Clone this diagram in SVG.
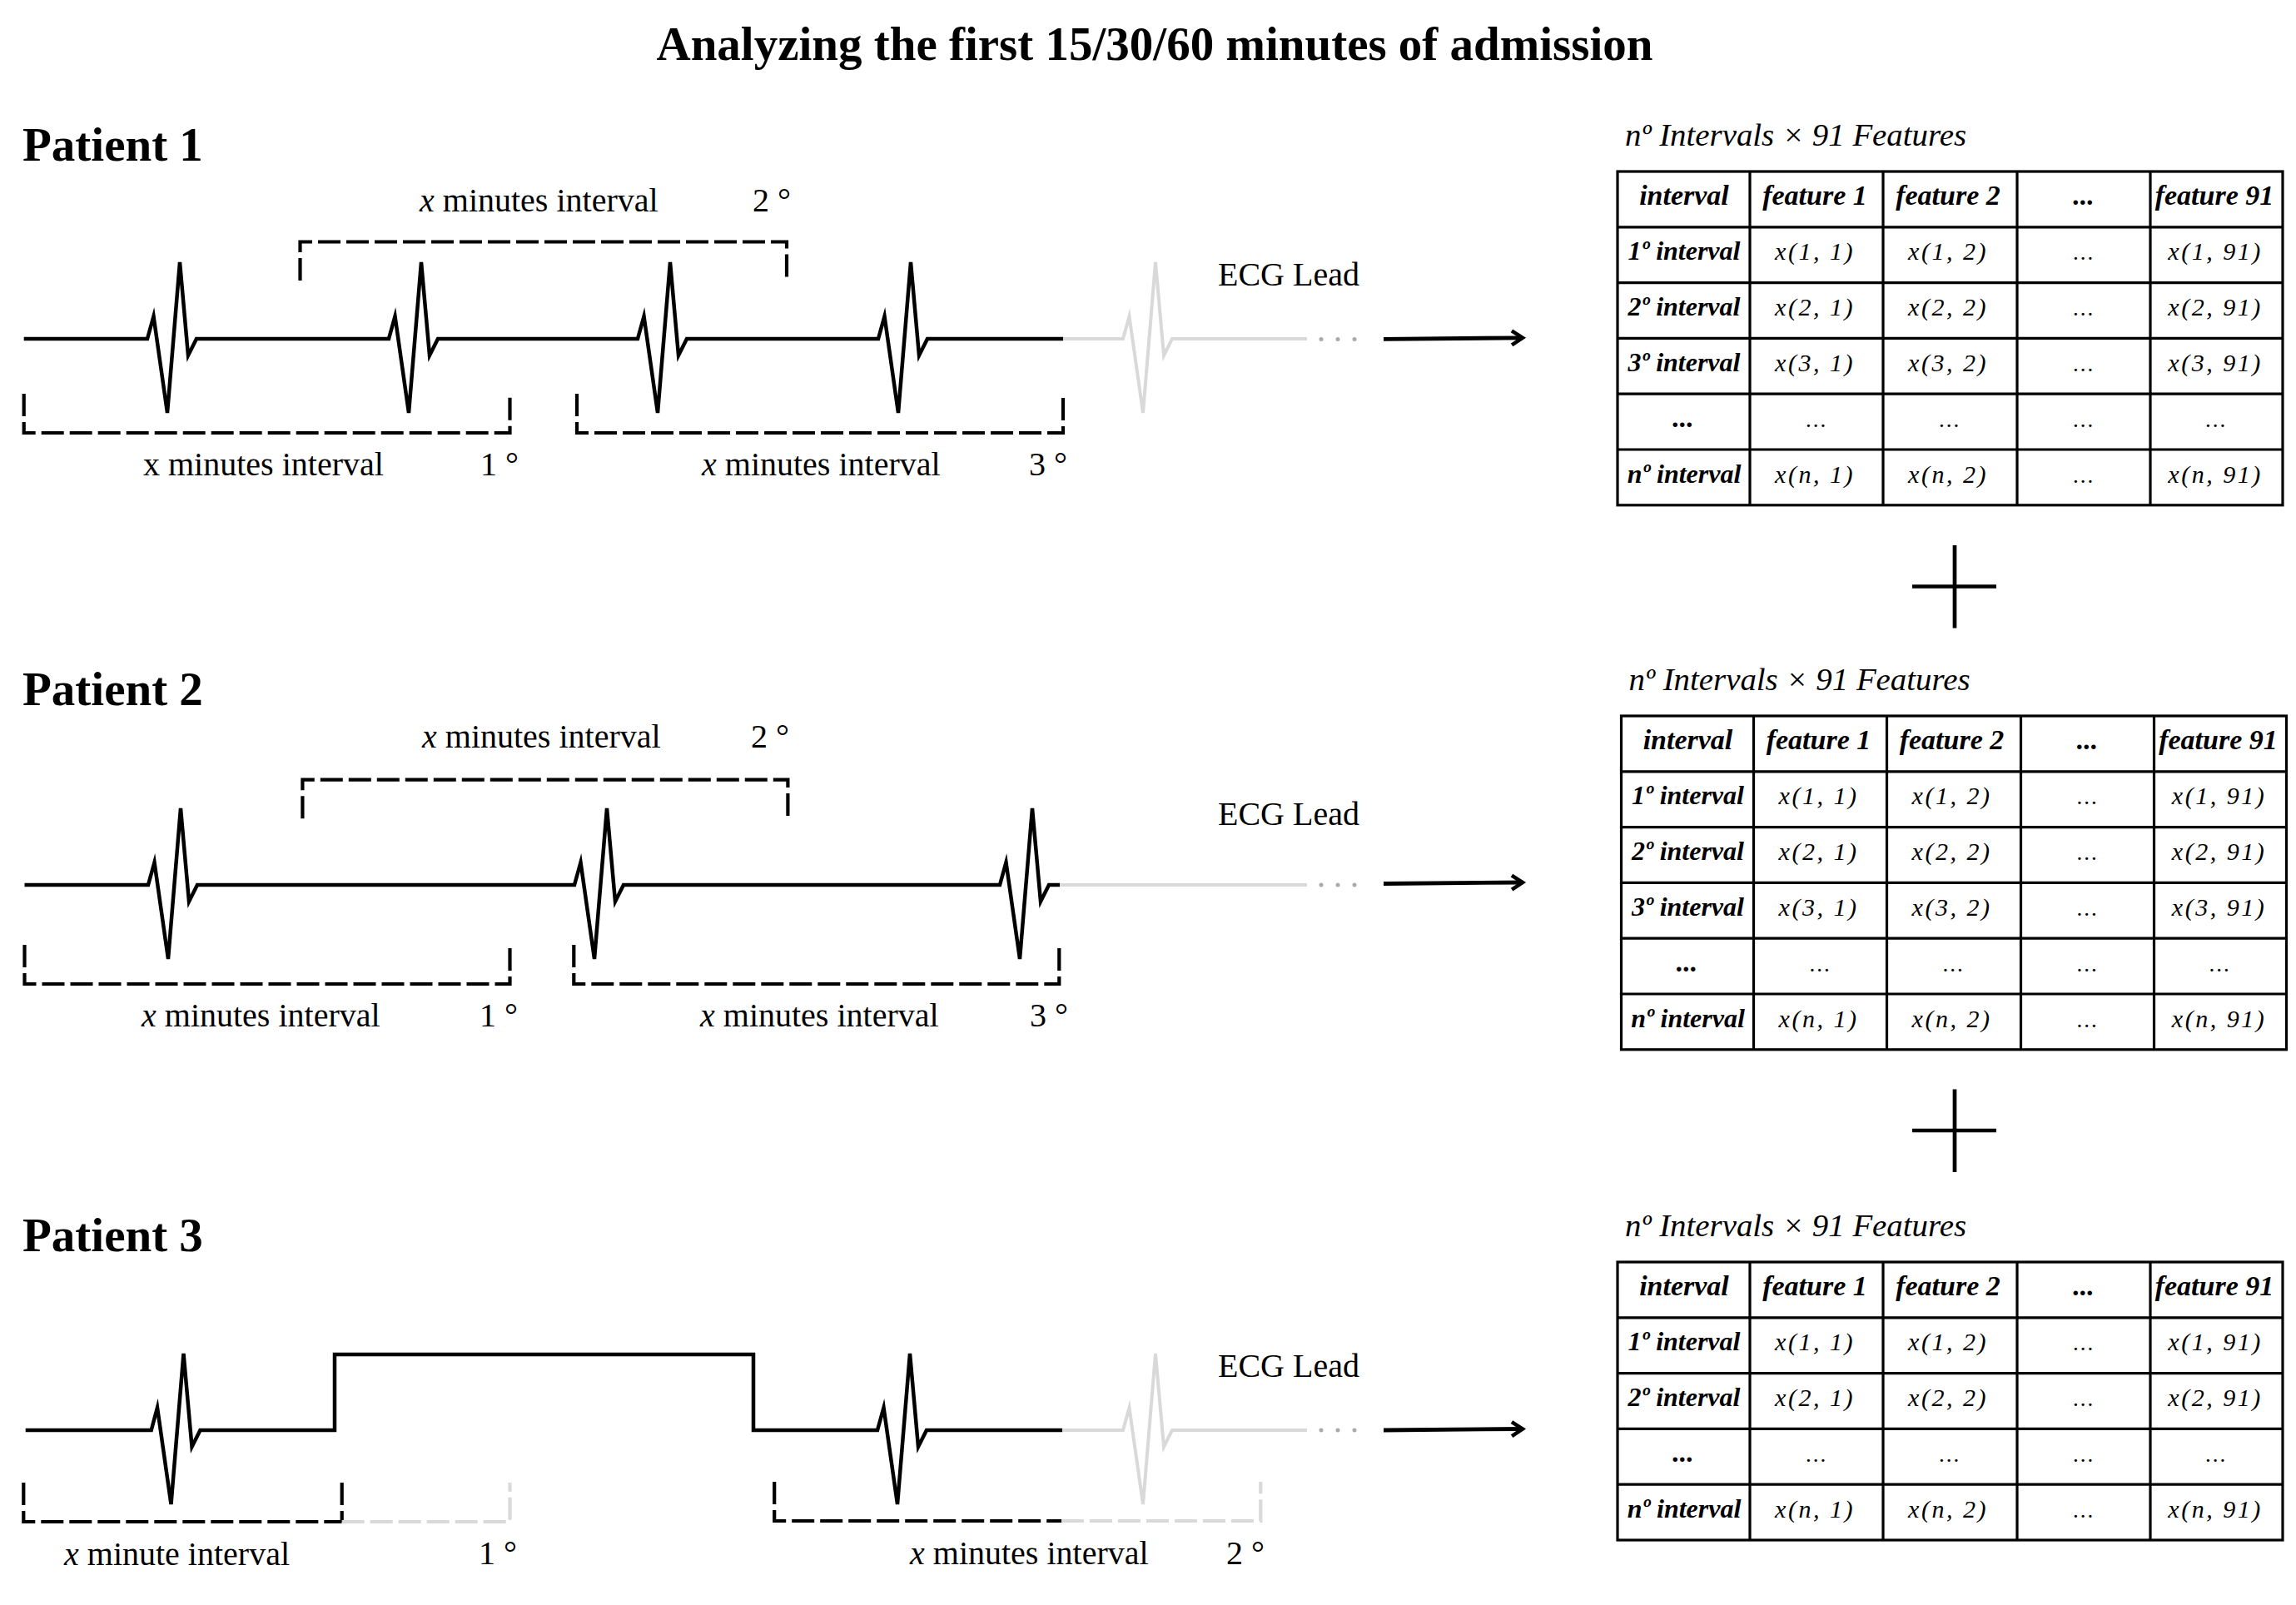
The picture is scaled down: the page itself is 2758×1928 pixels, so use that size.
<svg xmlns="http://www.w3.org/2000/svg" width="2758" height="1928" viewBox="0 0 2758 1928">
<style>
text{font-family:"Liberation Serif","Times New Roman",serif;fill:#000}
.title{font-size:57px;font-weight:bold}
.pat{font-size:57px;font-weight:bold}
.lbl{font-size:40px}
.it{font-style:italic}
.ttl{font-size:38px;font-style:italic}
.hd{font-size:34px;font-weight:bold;font-style:italic;text-anchor:middle}
.rl{font-size:32px;font-weight:bold;font-style:italic;text-anchor:middle}
.cell{font-size:30px;font-style:italic;text-anchor:middle;letter-spacing:2.5px}
.dt{font-size:27px;text-anchor:middle;letter-spacing:2px}
.ecg{fill:none;stroke:#000;stroke-width:4.5;stroke-linejoin:miter;stroke-miterlimit:8}
.ecgg{fill:none;stroke:#d9d9d9;stroke-width:4;stroke-linejoin:miter;stroke-miterlimit:8}
.br{fill:none;stroke:#000;stroke-width:4.2;stroke-dasharray:27 7}
.brg{fill:none;stroke:#d9d9d9;stroke-width:4.2;stroke-dasharray:27 7}
.grid{fill:none;stroke:#000;stroke-width:3.2}
.arr{fill:none;stroke:#000;stroke-width:4.8}
.plus{fill:none;stroke:#000;stroke-width:4.7}
.dot{fill:#aaaaaa}
</style>
<defs>
<marker id="chev" markerUnits="userSpaceOnUse" markerWidth="30" markerHeight="30" refX="15" refY="10" orient="auto" viewBox="0 0 30 20">
<path d="M2,1.5 L15,10 L2,18.5" fill="none" stroke="#000" stroke-width="4.5"/>
</marker>
</defs>

<text class="title" x="1387" y="72" text-anchor="middle">Analyzing the first 15/30/60 minutes of admission</text>

<!-- Patient 1 -->
<g id="patient1">
<text class="pat" x="27" y="193">Patient 1</text>
<path class="ecg" d="M28.7,407 H177 L184.5,380 L201,496 L216,315 L226,427 L236,407 H467 L474.5,380 L491,496 L506,315 L516,427 L526,407 H766 L773.5,380 L790,496 L805,315 L815,427 L825,407 H1055 L1062.5,380 L1079,496 L1094,315 L1104,427 L1114,407 H1277"/>
<path class="ecgg" d="M1277,407 H1349 L1356.5,380 L1373,496 L1388,315 L1398,427 L1408,407 H1570"/>
<circle class="dot" cx="1587" cy="407.5" r="2.5"/><circle class="dot" cx="1607" cy="407.5" r="2.5"/><circle class="dot" cx="1627" cy="407.5" r="2.5"/>
<path class="br" d="M28.7,473 V520 H612.5 V473"/>
<path class="br" d="M360.5,337 V290.5 H945 V337"/>
<path class="br" d="M693,473 V520 H1277 V473"/>
<text class="lbl" x="504" y="254"><tspan class="it">x</tspan> minutes interval</text>
<text class="lbl" x="904" y="254">2 °</text>
<text class="lbl" x="172" y="571">x minutes interval</text>
<text class="lbl" x="577" y="571">1 °</text>
<text class="lbl" x="843" y="571"><tspan class="it">x</tspan> minutes interval</text>
<text class="lbl" x="1236" y="571">3 °</text>
<text class="lbl" x="1463" y="343">ECG Lead</text>
</g>

<!-- Patient 2 -->
<g id="patient2">
<text class="pat" x="27" y="847">Patient 2</text>
<path class="ecg" d="M29.5,1063 H178 L185.5,1036 L202,1152 L217,971 L227,1083 L237,1063 H690 L697.5,1036 L714,1152 L729,971 L739,1083 L749,1063 H1201 L1208.5,1036 L1225,1152 L1240,971 L1250,1083 L1260,1063 H1273"/>
<path class="ecgg" d="M1273,1063 H1570"/>
<circle class="dot" cx="1587" cy="1063" r="2.5"/><circle class="dot" cx="1607" cy="1063" r="2.5"/><circle class="dot" cx="1627" cy="1063" r="2.5"/>
<path class="br" d="M29.5,1135 V1182 H612.5 V1135"/>
<path class="br" d="M363.4,983.3 V936.7 H946.4 V983.3"/>
<path class="br" d="M689.3,1135 V1182 H1272.3 V1135"/>
<text class="lbl" x="507" y="898"><tspan class="it">x</tspan> minutes interval</text>
<text class="lbl" x="902" y="898">2 °</text>
<text class="lbl" x="170" y="1233"><tspan class="it">x</tspan> minutes interval</text>
<text class="lbl" x="576" y="1233">1 °</text>
<text class="lbl" x="841" y="1233"><tspan class="it">x</tspan> minutes interval</text>
<text class="lbl" x="1237" y="1233">3 °</text>
<text class="lbl" x="1463" y="991">ECG Lead</text>
</g>

<!-- Patient 3 -->
<g id="patient3">
<text class="pat" x="27" y="1503">Patient 3</text>
<path class="ecg" d="M30.7,1718 H181.7 L189,1691 L205.5,1807 L220.5,1626 L230.5,1738 L240.5,1718 H402 V1627 H905 V1718 H1054 L1061.5,1691 L1078,1807 L1093,1626 L1103,1738 L1113,1718 H1276"/>
<path class="ecgg" d="M1276,1718 H1349 L1356.5,1691 L1373,1807 L1388,1626 L1398,1738 L1408,1718 H1570"/>
<circle class="dot" cx="1587" cy="1718" r="2.5"/><circle class="dot" cx="1607" cy="1718" r="2.5"/><circle class="dot" cx="1627" cy="1718" r="2.5"/>
<path class="br" d="M28.3,1781 V1828 H410.7"/>
<path class="br" d="M410.7,1781 V1828"/>
<path class="brg" d="M410.7,1828 H612.5 V1781"/>
<path class="br" d="M930.2,1780 V1827 H1275"/>
<path class="brg" d="M1275,1827 H1514.3 V1780"/>
<text class="lbl" x="77" y="1880"><tspan class="it">x</tspan> minute interval</text>
<text class="lbl" x="575" y="1879">1 °</text>
<text class="lbl" x="1093" y="1879"><tspan class="it">x</tspan> minutes interval</text>
<text class="lbl" x="1473" y="1879">2 °</text>
<text class="lbl" x="1463" y="1654">ECG Lead</text>
</g>

<!-- Table 1 -->
<g id="table1" transform="translate(1943,206)">
<text class="ttl" x="9" y="-31" textLength="410" lengthAdjust="spacingAndGlyphs">nº Intervals × 91 Features</text>
<rect class="grid" x="0" y="0" width="799" height="400.8"/>
<path class="grid" d="M159,0 V400.8 M319,0 V400.8 M480,0 V400.8 M640,0 V400.8 M0,66.8 H799 M0,133.6 H799 M0,200.4 H799 M0,267.2 H799 M0,334 H799"/>
<text class="hd" x="80" y="40">interval</text><text class="hd" x="237" y="40">feature 1</text><text class="hd" x="397" y="40">feature 2</text><text class="hd" x="560" y="40">...</text><text class="hd" x="717" y="40">feature 91</text>
<text class="rl" x="80" y="106">1º interval</text><text class="cell" x="237" y="106">x(1, 1)</text><text class="cell" x="397" y="106">x(1, 2)</text><text class="dt" x="560" y="106">...</text><text class="cell" x="718" y="106">x(1, 91)</text>
<text class="rl" x="80" y="173">2º interval</text><text class="cell" x="237" y="173">x(2, 1)</text><text class="cell" x="397" y="173">x(2, 2)</text><text class="dt" x="560" y="173">...</text><text class="cell" x="718" y="173">x(2, 91)</text>
<text class="rl" x="80" y="240">3º interval</text><text class="cell" x="237" y="240">x(3, 1)</text><text class="cell" x="397" y="240">x(3, 2)</text><text class="dt" x="560" y="240">...</text><text class="cell" x="718" y="240">x(3, 91)</text>
<text class="hd" x="79" y="307">...</text><text class="dt" x="239" y="307">...</text><text class="dt" x="399" y="307">...</text><text class="dt" x="560" y="307">...</text><text class="dt" x="719" y="307">...</text>
<text class="rl" x="80" y="374">nº interval</text><text class="cell" x="237" y="374">x(n, 1)</text><text class="cell" x="397" y="374">x(n, 2)</text><text class="dt" x="560" y="374">...</text><text class="cell" x="718" y="374">x(n, 91)</text>
</g>

<!-- Table 2 -->
<g id="table2" transform="translate(1947.5,860)">
<text class="ttl" x="9" y="-31" textLength="410" lengthAdjust="spacingAndGlyphs">nº Intervals × 91 Features</text>
<rect class="grid" x="0" y="0" width="799" height="400.8"/>
<path class="grid" d="M159,0 V400.8 M319,0 V400.8 M480,0 V400.8 M640,0 V400.8 M0,66.8 H799 M0,133.6 H799 M0,200.4 H799 M0,267.2 H799 M0,334 H799"/>
<text class="hd" x="80" y="40">interval</text><text class="hd" x="237" y="40">feature 1</text><text class="hd" x="397" y="40">feature 2</text><text class="hd" x="560" y="40">...</text><text class="hd" x="717" y="40">feature 91</text>
<text class="rl" x="80" y="106">1º interval</text><text class="cell" x="237" y="106">x(1, 1)</text><text class="cell" x="397" y="106">x(1, 2)</text><text class="dt" x="560" y="106">...</text><text class="cell" x="718" y="106">x(1, 91)</text>
<text class="rl" x="80" y="173">2º interval</text><text class="cell" x="237" y="173">x(2, 1)</text><text class="cell" x="397" y="173">x(2, 2)</text><text class="dt" x="560" y="173">...</text><text class="cell" x="718" y="173">x(2, 91)</text>
<text class="rl" x="80" y="240">3º interval</text><text class="cell" x="237" y="240">x(3, 1)</text><text class="cell" x="397" y="240">x(3, 2)</text><text class="dt" x="560" y="240">...</text><text class="cell" x="718" y="240">x(3, 91)</text>
<text class="hd" x="79" y="307">...</text><text class="dt" x="239" y="307">...</text><text class="dt" x="399" y="307">...</text><text class="dt" x="560" y="307">...</text><text class="dt" x="719" y="307">...</text>
<text class="rl" x="80" y="374">nº interval</text><text class="cell" x="237" y="374">x(n, 1)</text><text class="cell" x="397" y="374">x(n, 2)</text><text class="dt" x="560" y="374">...</text><text class="cell" x="718" y="374">x(n, 91)</text>
</g>

<!-- Table 3 -->
<g id="table3" transform="translate(1943,1516)">
<text class="ttl" x="9" y="-31" textLength="410" lengthAdjust="spacingAndGlyphs">nº Intervals × 91 Features</text>
<rect class="grid" x="0" y="0" width="799" height="334"/>
<path class="grid" d="M159,0 V334 M319,0 V334 M480,0 V334 M640,0 V334 M0,66.8 H799 M0,133.6 H799 M0,200.4 H799 M0,267.2 H799"/>
<text class="hd" x="80" y="40">interval</text><text class="hd" x="237" y="40">feature 1</text><text class="hd" x="397" y="40">feature 2</text><text class="hd" x="560" y="40">...</text><text class="hd" x="717" y="40">feature 91</text>
<text class="rl" x="80" y="106">1º interval</text><text class="cell" x="237" y="106">x(1, 1)</text><text class="cell" x="397" y="106">x(1, 2)</text><text class="dt" x="560" y="106">...</text><text class="cell" x="718" y="106">x(1, 91)</text>
<text class="rl" x="80" y="173">2º interval</text><text class="cell" x="237" y="173">x(2, 1)</text><text class="cell" x="397" y="173">x(2, 2)</text><text class="dt" x="560" y="173">...</text><text class="cell" x="718" y="173">x(2, 91)</text>
<text class="hd" x="79" y="240">...</text><text class="dt" x="239" y="240">...</text><text class="dt" x="399" y="240">...</text><text class="dt" x="560" y="240">...</text><text class="dt" x="719" y="240">...</text>
<text class="rl" x="80" y="307">nº interval</text><text class="cell" x="237" y="307">x(n, 1)</text><text class="cell" x="397" y="307">x(n, 2)</text><text class="dt" x="560" y="307">...</text><text class="cell" x="718" y="307">x(n, 91)</text>
</g>

<!-- Connectors -->
<g id="connectors">
<path class="arr" d="M1662,407.3 L1829,405.8" marker-end="url(#chev)"/>
<path class="arr" d="M1662,1061.5 L1829,1060" marker-end="url(#chev)"/>
<path class="arr" d="M1662,1718 L1829,1716.5" marker-end="url(#chev)"/>
<path class="plus" d="M2297,704.5 H2398 M2348,655 V754.5"/>
<path class="plus" d="M2297,1358 H2398 M2348,1308.5 V1408"/>
</g>
</svg>
